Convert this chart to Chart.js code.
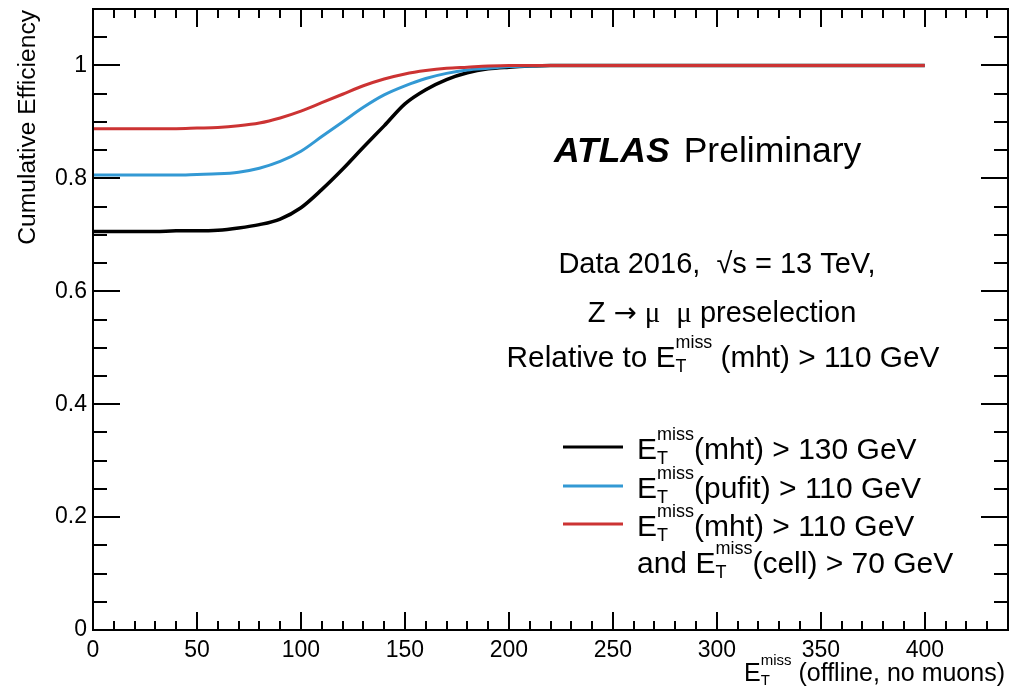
<!DOCTYPE html>
<html>
<head>
<meta charset="utf-8">
<script src="https://cdn.jsdelivr.net/npm/chart.js@4"></script>
<style>
  html, body { margin: 0; padding: 0; background: #fff; }
  #wrap { width: 1012px; height: 691px; position: relative; }
</style>
</head>
<body>
<div id="wrap"><canvas id="c" width="1012" height="691"></canvas></div>
<script>
// ---- data ----
const xValues = [0, 10, 20, 30, 40, 50, 60, 70, 80, 90, 100, 110, 120, 130, 140, 150, 160, 170, 180, 190, 200, 210, 220, 250, 300, 350, 400];
const mht130 =  [0.706, 0.706, 0.706, 0.706, 0.707, 0.707, 0.708, 0.712, 0.718, 0.728, 0.748, 0.780, 0.816, 0.855, 0.893, 0.932, 0.957, 0.975, 0.987, 0.994, 0.997, 0.999, 1.000, 1.000, 1.000, 1.000, 1.000];
const pufit110 = [0.806, 0.806, 0.806, 0.806, 0.806, 0.807, 0.808, 0.811, 0.818, 0.830, 0.848, 0.874, 0.900, 0.926, 0.948, 0.964, 0.977, 0.986, 0.992, 0.995, 0.998, 0.999, 1.000, 1.000, 1.000, 1.000, 1.000];
const mht110cell70 = [0.888, 0.888, 0.888, 0.888, 0.888, 0.889, 0.890, 0.893, 0.898, 0.907, 0.919, 0.934, 0.949, 0.964, 0.976, 0.985, 0.991, 0.995, 0.997, 0.999, 1.000, 1.000, 1.000, 1.000, 1.000, 1.000, 1.000];
const xTickValues = [0, 50, 100, 150, 200, 250, 300, 350, 400];
const yTickValues = [0, 0.2, 0.4, 0.6, 0.8, 1];
const seriesLabels = ["mht > 130 GeV", "pufit > 110 GeV", "mht > 110 GeV and cell > 70 GeV"];

const FONT = '"Liberation Sans", Arial, Helvetica, sans-serif';
const SERIF = '"Liberation Serif", "DejaVu Serif", serif';
const DJV = '"DejaVu Sans", sans-serif';
const RED = '#cc3333', BLUE = '#3399d4', BLACK = '#000000';

function pts(ys) { return xValues.map((x, i) => ({ x: x, y: ys[i] })); }

function partWidth(ctx, p, size) {
  if (typeof p === 'string') { ctx.font = size + 'px ' + FONT; return ctx.measureText(p).width; }
  if (p.t !== undefined) { ctx.font = (size * (p.scale || 1)) + 'px ' + p.f; return ctx.measureText(p.t).width; }
  ctx.font = (size * 0.6) + 'px ' + FONT;
  return Math.max(ctx.measureText(p.sup).width, ctx.measureText(p.sub).width);
}
function drawRich(ctx, parts, x, y, size, align) {
  let w = 0;
  for (const p of parts) w += partWidth(ctx, p, size);
  let cx = align === 'center' ? x - w / 2 : (align === 'right' ? x - w : x);
  ctx.textAlign = 'left';
  ctx.textBaseline = 'alphabetic';
  for (const p of parts) {
    const pw = partWidth(ctx, p, size);
    if (typeof p === 'string') {
      ctx.font = size + 'px ' + FONT;
      ctx.fillText(p, cx, y);
    } else if (p.t !== undefined) {
      ctx.font = (size * (p.scale || 1)) + 'px ' + p.f;
      ctx.fillText(p.t, cx, y + (p.dy || 0));
    } else {
      ctx.font = (size * 0.6) + 'px ' + FONT;
      ctx.fillText(p.sup, cx, y - size * 0.63);
      ctx.fillText(p.sub, cx, y + size * 0.17);
    }
    cx += pw;
  }
}
const ET = { sup: 'miss', sub: 'T' };

const decor = {
  id: 'decor',
  afterDraw(chart) {
    const ctx = chart.ctx;
    const a = chart.chartArea;
    const xs = chart.scales.x, ys = chart.scales.y;
    ctx.save();
    ctx.strokeStyle = '#000';
    ctx.fillStyle = '#000';
    // frame
    ctx.lineWidth = 2;
    ctx.strokeRect(a.left, a.top, a.right - a.left, a.bottom - a.top);
    // x ticks (bottom and top), inward
    ctx.beginPath();
    for (let i = 0; i <= 44; i++) {
      const v = i * 10;
      const px = Math.round(xs.getPixelForValue(v));
      const len = (i % 5 === 0) ? 18 : 9;
      ctx.moveTo(px, a.bottom); ctx.lineTo(px, a.bottom - len);
      ctx.moveTo(px, a.top); ctx.lineTo(px, a.top + len);
    }
    // y ticks (left and right), inward
    for (let i = 0; i <= 22; i++) {
      const v = i * 0.05;
      const py = Math.round(ys.getPixelForValue(v));
      const len = (i % 4 === 0) ? 27 : 14;
      ctx.moveTo(a.left, py); ctx.lineTo(a.left + len, py);
      ctx.moveTo(a.right, py); ctx.lineTo(a.right - len, py);
    }
    ctx.stroke();

    // y axis title
    ctx.save();
    ctx.translate(35, 10);
    ctx.rotate(-Math.PI / 2);
    ctx.font = '24.6px ' + FONT;
    ctx.textAlign = 'right';
    ctx.textBaseline = 'alphabetic';
    ctx.fillText('Cumulative Efficiency', 0, 0);
    ctx.restore();

    // x axis title
    drawRich(ctx, ['E', ET, ' (offline, no muons)'], 1005, 681, 25, 'right');

    // ATLAS Preliminary
    ctx.textAlign = 'left';
    ctx.textBaseline = 'alphabetic';
    ctx.font = 'italic bold 35.5px ' + FONT;
    ctx.fillText('ATLAS', 554, 162);
    const wA = ctx.measureText('ATLAS').width;
    ctx.font = '35.5px ' + FONT;
    ctx.fillText('Preliminary', 554 + wA + 14, 162);

    // annotation lines
    drawRich(ctx, ['Data 2016,  \u221As = 13 TeV,'], 717, 273, 29, 'center');
    drawRich(ctx, ['Z ', { t: '\u2192', f: DJV, scale: 0.95 }, ' ', { t: '\u03BC', f: SERIF }, '  ', { t: '\u03BC', f: SERIF }, ' preselection'], 722, 322, 29, 'center');
    drawRich(ctx, ['Relative to E', ET, ' (mht) > 110 GeV'], 723, 367, 29.8, 'center');

    // legend
    const rows = [
      { color: BLACK, ly: 447, parts: ['E', ET, '(mht) > 130 GeV'], by: 459 },
      { color: BLUE, ly: 486, parts: ['E', ET, '(pufit) > 110 GeV'], by: 498 },
      { color: RED, ly: 524, parts: ['E', ET, '(mht) > 110 GeV'], by: 536 }
    ];
    ctx.lineWidth = 3;
    for (const r of rows) {
      ctx.strokeStyle = r.color;
      ctx.beginPath(); ctx.moveTo(563, r.ly); ctx.lineTo(623, r.ly); ctx.stroke();
      drawRich(ctx, r.parts, 637, r.by, 30, 'left');
    }
    drawRich(ctx, ['and E', ET, '(cell) > 70 GeV'], 637, 573, 30, 'left');
    ctx.restore();
  }
};

new Chart(document.getElementById('c'), {
  type: 'line',
  data: {
    datasets: [
      { label: seriesLabels[0], data: pts(mht130), borderColor: BLACK, borderWidth: 3.5, pointRadius: 0, cubicInterpolationMode: 'monotone', fill: false, order: 3 },
      { label: seriesLabels[1], data: pts(pufit110), borderColor: BLUE, borderWidth: 3, pointRadius: 0, cubicInterpolationMode: 'monotone', fill: false, order: 2 },
      { label: seriesLabels[2], data: pts(mht110cell70), borderColor: RED, borderWidth: 3, pointRadius: 0, cubicInterpolationMode: 'monotone', fill: false, order: 1 }
    ]
  },
  options: {
    responsive: false,
    animation: false,
    devicePixelRatio: 1,
    layout: { autoPadding: false, padding: { left: 0, right: 4, top: 9, bottom: 0 } },
    plugins: { legend: { display: false }, tooltip: { enabled: false }, title: { display: false } },
    scales: {
      x: {
        type: 'linear', min: 0, max: 440,
        grid: { display: false, drawTicks: false },
        border: { display: false },
        afterBuildTicks: s => { s.ticks = xTickValues.map(v => ({ value: v })); },
        afterFit: s => { s.height = 61; s.paddingLeft = 0; s.paddingRight = 0; },
        ticks: { color: '#000', font: { family: FONT, size: 23 }, padding: 7, maxRotation: 0, autoSkip: false,
                 callback: v => String(v) }
      },
      y: {
        type: 'linear', min: 0, max: 1.1,
        grid: { display: false, drawTicks: false },
        border: { display: false },
        afterBuildTicks: s => { s.ticks = yTickValues.map(v => ({ value: v })); },
        afterFit: s => { s.width = 93; s.paddingTop = 0; s.paddingBottom = 0; },
        ticks: { color: '#000', font: { family: FONT, size: 23 }, padding: 6,
                 callback: v => String(v) }
      }
    }
  },
  plugins: [decor]
});
</script>
</body>
</html>
